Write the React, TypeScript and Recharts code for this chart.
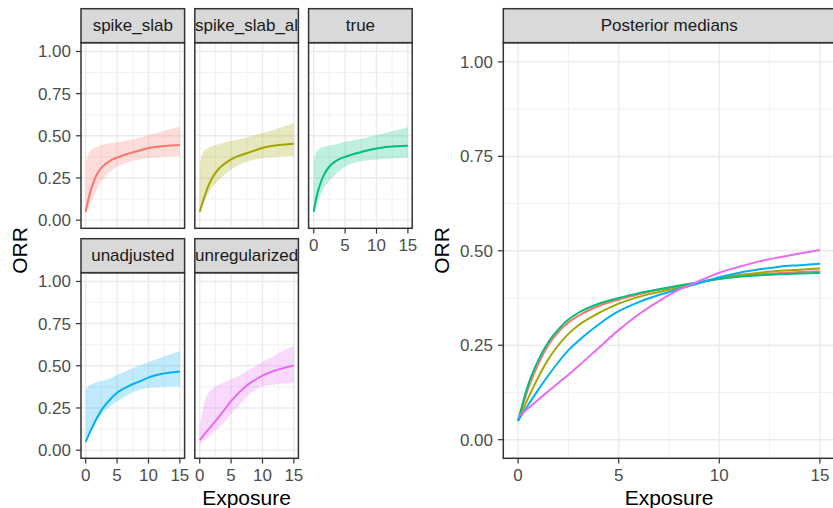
import { ComposedChart, Area, Line, XAxis, YAxis, CartesianGrid } from "recharts";

// exposure grid shared by every curve
const exposure = [0, 0.5, 1, 1.5, 2, 2.5, 3, 4, 5, 6, 7, 8, 9, 10, 11, 12, 13, 14, 15];

// posterior medians
const spikeSlabMed = [0.05, 0.135, 0.2, 0.25, 0.285, 0.31, 0.328, 0.354, 0.371, 0.385, 0.397, 0.407, 0.417, 0.426, 0.433, 0.438, 0.441, 0.444, 0.446];
const spikeSlabAlMed = [0.05, 0.11, 0.165, 0.213, 0.25, 0.28, 0.303, 0.335, 0.36, 0.378, 0.391, 0.403, 0.416, 0.428, 0.436, 0.442, 0.447, 0.45, 0.453];
const trueMed = [0.05, 0.145, 0.21, 0.258, 0.292, 0.318, 0.336, 0.36, 0.375, 0.388, 0.398, 0.408, 0.417, 0.425, 0.431, 0.435, 0.438, 0.44, 0.441];
const unadjustedMed = [0.05, 0.092, 0.132, 0.17, 0.205, 0.237, 0.262, 0.305, 0.34, 0.364, 0.383, 0.399, 0.414, 0.43, 0.442, 0.451, 0.458, 0.462, 0.466];
const unregularizedMed = [0.06, 0.083, 0.106, 0.128, 0.15, 0.172, 0.195, 0.243, 0.29, 0.332, 0.367, 0.397, 0.42, 0.442, 0.458, 0.472, 0.483, 0.493, 0.502];

// credible band limits
const spikeSlabLo = [0.035, 0.08, 0.12, 0.16, 0.2, 0.23, 0.255, 0.29, 0.318, 0.333, 0.345, 0.355, 0.362, 0.368, 0.372, 0.375, 0.377, 0.379, 0.38];
const spikeSlabHi = [0.34, 0.4, 0.42, 0.43, 0.438, 0.445, 0.45, 0.456, 0.462, 0.468, 0.475, 0.483, 0.493, 0.503, 0.513, 0.523, 0.535, 0.545, 0.555];
const spikeSlabAlLo = [0.035, 0.085, 0.13, 0.165, 0.195, 0.215, 0.235, 0.27, 0.3, 0.322, 0.34, 0.352, 0.361, 0.368, 0.372, 0.375, 0.377, 0.379, 0.38];
const spikeSlabAlHi = [0.33, 0.4, 0.42, 0.432, 0.44, 0.445, 0.45, 0.46, 0.47, 0.478, 0.486, 0.496, 0.506, 0.516, 0.527, 0.538, 0.55, 0.562, 0.574];
const trueLo = [0.035, 0.09, 0.14, 0.18, 0.21, 0.235, 0.255, 0.29, 0.318, 0.335, 0.345, 0.352, 0.357, 0.36, 0.363, 0.365, 0.367, 0.369, 0.37];
const trueHi = [0.35, 0.41, 0.425, 0.433, 0.438, 0.442, 0.446, 0.455, 0.464, 0.471, 0.478, 0.486, 0.495, 0.504, 0.513, 0.523, 0.532, 0.541, 0.55];
const unadjustedLo = [0.035, 0.085, 0.125, 0.16, 0.185, 0.21, 0.23, 0.262, 0.288, 0.312, 0.333, 0.35, 0.362, 0.37, 0.373, 0.375, 0.377, 0.378, 0.378];
const unadjustedHi = [0.35, 0.38, 0.392, 0.4, 0.405, 0.41, 0.415, 0.428, 0.446, 0.462, 0.478, 0.493, 0.508, 0.522, 0.536, 0.549, 0.562, 0.575, 0.588];
const unregularizedLo = [0.03, 0.05, 0.065, 0.08, 0.1, 0.115, 0.13, 0.17, 0.215, 0.255, 0.295, 0.335, 0.36, 0.377, 0.384, 0.389, 0.393, 0.397, 0.4];
const unregularizedHi = [0.14, 0.24, 0.31, 0.345, 0.365, 0.378, 0.388, 0.403, 0.42, 0.437, 0.458, 0.478, 0.5, 0.522, 0.543, 0.563, 0.583, 0.602, 0.62];

const methods = ["spike_slab", "spike_slab_al", "true", "unadjusted", "unregularized"];

const xTicks = [0, 5, 10, 15];
const xMinor = [2.5, 7.5, 12.5];
const yTicks = [0, 0.25, 0.5, 0.75, 1];
const yMinor = [0.125, 0.375, 0.625, 0.875];

const FONT = "'Liberation Sans', Arial, Helvetica, sans-serif";
const HUES = ["#F8766D", "#A3A500", "#00BF7D", "#00B0F6", "#E76BF3"];

type Series = { name: string; color: string; med: number[]; lo: number[]; hi: number[] };

const series: Series[] = [
  { name: methods[0], color: HUES[0], med: spikeSlabMed, lo: spikeSlabLo, hi: spikeSlabHi },
  { name: methods[1], color: HUES[1], med: spikeSlabAlMed, lo: spikeSlabAlLo, hi: spikeSlabAlHi },
  { name: methods[2], color: HUES[2], med: trueMed, lo: trueLo, hi: trueHi },
  { name: methods[3], color: HUES[3], med: unadjustedMed, lo: unadjustedLo, hi: unadjustedHi },
  { name: methods[4], color: HUES[4], med: unregularizedMed, lo: unregularizedLo, hi: unregularizedHi },
];

// facet layout (plot rectangles, px)
const COLS = [81, 194.8, 308.6];
const ROWS = [42.7, 272.7];
const PW = 103.6;
const PH = 185.6;
const STRIP = 34;
const RIGHT = { left: 503.3, top: 42.7, w: 332, h: 415.6 };
const PAD = 12; // room so edge tick labels are not clipped by the chart svg

const tickStyle = { fill: "#4D4D4D", fontSize: 17, fontFamily: FONT };

type PanelProps = {
  left: number;
  top: number;
  w: number;
  h: number;
  showX: boolean;
  showY: boolean;
  data: Record<string, unknown>[];
  children: React.ReactNode;
};

function Panel({ left, top, w, h, showX, showY, data, children }: PanelProps) {
  const yw = showY ? 50 : 0;
  const xh = showX ? 40 : 0;
  const bottom = showX ? 0 : PAD;
  const width = w + yw + PAD;
  const height = PAD + h + xh + bottom;
  return (
    <div style={{ position: "absolute", left: left - yw, top: top - PAD, width, height }}>
      <ComposedChart
        width={width}
        height={height}
        data={data}
        margin={{ top: PAD, right: PAD, bottom, left: 0 }}
      >
        <CartesianGrid stroke="#EBEBEB" strokeWidth={0.7} horizontalValues={yMinor} verticalValues={xMinor} />
        <CartesianGrid stroke="#EBEBEB" strokeWidth={1.4} horizontalValues={yTicks} verticalValues={xTicks} />
        <XAxis
          dataKey="x"
          type="number"
          domain={[-0.75, 15.75]}
          ticks={xTicks}
          allowDataOverflow
          hide={!showX}
          height={xh}
          axisLine={false}
          tickLine={{ stroke: "#333333", strokeWidth: 1.2 }}
          tickSize={5}
          tickMargin={5}
          tick={tickStyle}
          interval={0}
        />
        <YAxis
          type="number"
          domain={[-0.05, 1.05]}
          ticks={yTicks}
          allowDataOverflow
          hide={!showY}
          width={yw}
          axisLine={false}
          tickLine={{ stroke: "#333333", strokeWidth: 1.2 }}
          tickSize={5}
          tickMargin={5}
          tick={tickStyle}
          tickFormatter={(v: number) => v.toFixed(2)}
          interval={0}
        />
        {children}
      </ComposedChart>
    </div>
  );
}

function facetData(s: Series) {
  return exposure.map((x, i) => ({ x, med: s.med[i], band: [s.lo[i], s.hi[i]] }));
}

const mediansData = exposure.map((x, i) => {
  const row: Record<string, number> = { x };
  series.forEach((s) => {
    row[s.name] = s.med[i];
  });
  return row;
});

export default function App() {
  const facets = series.map((s, i) => ({
    s,
    col: i % 3,
    row: Math.floor(i / 3),
  }));

  return (
    <div
      style={{
        position: "absolute",
        left: 0,
        top: 0,
        width: 833,
        height: 508,
        overflow: "hidden",
        background: "#fff",
        fontFamily: FONT,
      }}
    >
      {facets.map(({ s, col, row }) => (
        <Panel
          key={s.name}
          left={COLS[col]}
          top={ROWS[row]}
          w={PW}
          h={PH}
          showX={row === 1 || col === 2}
          showY={col === 0}
          data={facetData(s)}
        >
          <Area
            type="monotone"
            dataKey="band"
            fill={s.color}
            fillOpacity={0.25}
            stroke="none"
            isAnimationActive={false}
          />
          <Line
            type="monotone"
            dataKey="med"
            stroke={s.color}
            strokeWidth={2}
            dot={false}
            isAnimationActive={false}
          />
        </Panel>
      ))}

      <Panel left={RIGHT.left} top={RIGHT.top} w={RIGHT.w} h={RIGHT.h} showX showY data={mediansData}>
        {series.map((s) => (
          <Line
            key={s.name}
            type="monotone"
            dataKey={s.name}
            stroke={s.color}
            strokeWidth={2}
            dot={false}
            isAnimationActive={false}
          />
        ))}
      </Panel>

      {/* strips, borders, axis titles */}
      <svg
        width={833}
        height={508}
        style={{ position: "absolute", left: 0, top: 0, pointerEvents: "none" }}
      >
        <defs>
          {facets.map(({ s, col, row }) => (
            <clipPath key={s.name} id={`strip-${s.name}`}>
              <rect x={COLS[col]} y={ROWS[row] - STRIP} width={PW} height={STRIP} />
            </clipPath>
          ))}
        </defs>
        {facets.map(({ s, col, row }) => (
          <g key={s.name}>
            <rect
              x={COLS[col]}
              y={ROWS[row] - STRIP}
              width={PW}
              height={STRIP}
              fill="#D9D9D9"
              stroke="#333333"
              strokeWidth={1.5}
            />
            <text
              x={COLS[col] + PW / 2}
              y={ROWS[row] - STRIP / 2}
              textAnchor="middle"
              dominantBaseline="central"
              fontSize={17}
              fill="#1A1A1A"
              fontFamily={FONT}
              clipPath={`url(#strip-${s.name})`}
            >
              {s.name}
            </text>
            <rect x={COLS[col]} y={ROWS[row]} width={PW} height={PH} fill="none" stroke="#333333" strokeWidth={1.5} />
          </g>
        ))}
        <rect
          x={RIGHT.left}
          y={RIGHT.top - STRIP}
          width={RIGHT.w}
          height={STRIP}
          fill="#D9D9D9"
          stroke="#333333"
          strokeWidth={1.5}
        />
        <text
          x={RIGHT.left + RIGHT.w / 2}
          y={RIGHT.top - STRIP / 2}
          textAnchor="middle"
          dominantBaseline="central"
          fontSize={17}
          fill="#1A1A1A"
          fontFamily={FONT}
        >
          Posterior medians
        </text>
        <rect x={RIGHT.left} y={RIGHT.top} width={RIGHT.w} height={RIGHT.h} fill="none" stroke="#333333" strokeWidth={1.5} />

        <text x={246.5} y={497} textAnchor="middle" dominantBaseline="central" fontSize={21} fill="#000" fontFamily={FONT}>
          Exposure
        </text>
        <text x={669} y={497} textAnchor="middle" dominantBaseline="central" fontSize={21} fill="#000" fontFamily={FONT}>
          Exposure
        </text>
        <text
          x={19}
          y={250.5}
          textAnchor="middle"
          dominantBaseline="central"
          fontSize={21}
          fill="#000"
          fontFamily={FONT}
          transform="rotate(-90 19 250.5)"
        >
          ORR
        </text>
        <text
          x={441.5}
          y={250.5}
          textAnchor="middle"
          dominantBaseline="central"
          fontSize={21}
          fill="#000"
          fontFamily={FONT}
          transform="rotate(-90 441.5 250.5)"
        >
          ORR
        </text>
      </svg>
    </div>
  );
}
